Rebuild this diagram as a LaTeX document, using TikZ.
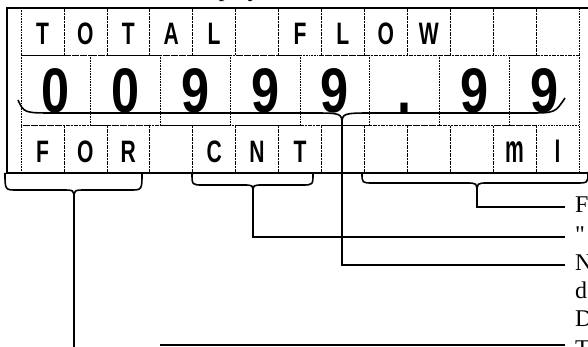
\documentclass[tikz,border=0pt]{standalone}
\usepackage{fontspec}
\setmainfont{Liberation Serif}
\setsansfont{Liberation Sans}
\usetikzlibrary{positioning,calc}
\newcommand{\narrow}[2][0.68]{\scalebox{#1}[1]{#2}}
\newcommand{\straightquote}{\XeTeXglyph\XeTeXcharglyph"22\relax}

\tikzset{
  cell/.style={draw, densely dotted, line width=0.6pt, inner sep=0pt},
  toprow/.style={minimum width=42.92pt, minimum height=47pt, text height=27pt, text depth=0pt,
    font=\sffamily\bfseries\fontsize{31}{31}\selectfont},
  midrow/.style={minimum width=69.75pt, minimum height=70pt, text height=46pt, text depth=0pt,
    font=\sffamily\bfseries\fontsize{63}{63}\selectfont},
  botrow/.style={minimum width=42.92pt, minimum height=48pt, text height=28pt, text depth=0pt,
    font=\sffamily\bfseries\fontsize{31}{31}\selectfont},
  frame/.style={line width=1.4pt},
  brace/.style={line width=1.6pt},
  lead/.style={line width=1.6pt},
  lbl/.style={anchor=west, inner sep=0pt, text height=10pt, text depth=0pt,
    font=\fontsize{24}{28}\selectfont},
  title/.style={anchor=base west, inner sep=0pt, font=\fontsize{24}{24}\selectfont}
}

\begin{document}
\begin{tikzpicture}[x=1pt,y=-1pt]
  \clip (0,0) rectangle (588,347);
  % Title, cut off at the top
  \node[title] (title) at (185,-3) {Display};
  % Top row: 13 character cells
  \foreach \ch [count=\i] in {T,O,T,A,L,{},F,L,O,W,{},{},{}}
    \node[cell,toprow] (top\i) at ({21+(\i-0.5)*42.92},31.5) {\narrow{\ch}};
  % Middle row: 8 large digit cells
  \foreach \ch [count=\i] in {0,0,9,9,9,.,9,9}
    \node[cell,midrow] (mid\i) at ({21+(\i-0.5)*69.75},90) {\narrow[0.8]{\ch}};
  % Bottom row: 13 character cells
  \foreach \ch [count=\i] in {F,O,R,{},C,N,T,{},{},{},{},{\scalebox{1}[1.25]{m}},l}
    \node[cell,botrow] (bot\i) at ({21+(\i-0.5)*42.92},149) {\narrow{\ch}};
  % Outer frame
  \draw[frame] (600,8) -- (7,8) -- (7,173) -- (600,173);
  % Brace under the digits
  \coordinate (midTip) at (342,125);
  \draw[brace] (18,100) .. controls (24,113) .. (55,113) -- (310,113)
    .. controls (342,113) .. (midTip) .. controls (342,113) .. (375,113)
    -- (528,113) .. controls (555,113) .. (565,98);
  % Brace under FOR
  \coordinate (forTip) at (74,199);
  \draw[brace] (5,173) .. controls (5,190) .. (17,190) -- (62,190)
    .. controls (74,190) .. (forTip) .. controls (74,190) .. (86,190)
    -- (130,190) .. controls (142,190) .. (142,173);
  % Brace under CNT
  \coordinate (cntTip) at (253,193);
  \draw[brace] (192,173) .. controls (192,185) .. (203,185) -- (243,185)
    .. controls (253,185) .. (cntTip) .. controls (253,185) .. (263,185)
    -- (302,185) .. controls (313,185) .. (313,173);
  % Brace under the unit cells
  \coordinate (unitTip) at (477,193);
  \draw[brace] (362,173) .. controls (362,183) .. (373,183) -- (466,183)
    .. controls (477,183) .. (unitTip) .. controls (477,183) .. (488,183)
    -- (576,183) .. controls (588,183) .. (588,172);
  % Labels, cut off at the right
  \node[lbl] (lblF) at (575,207) {F};
  \node[lbl] (lblQ) at (575,237) {\straightquote};
  \node[lbl] (lblN) at (575,265) {N};
  \node[lbl] (lblNd) at ([yshift=-28pt]lblN.west) {d};
  \node[lbl] (lblND) at ([yshift=-28pt]lblNd.west) {D};
  \node[lbl, anchor=base west] (lblT) at (575,356) {T};
  % Leaders
  \coordinate (tStart) at (160,345);
  \draw[lead] (unitTip) |- ([xshift=-10pt]lblF.west);
  \draw[lead] (cntTip) |- ([xshift=-10pt]lblQ.west);
  \draw[lead] (midTip) |- ([xshift=-10pt]lblN.west);
  \draw[lead] (forTip) -- (74,360);
  \draw[lead] (tStart) -- ([xshift=-10pt]lblT.west |- tStart);
\end{tikzpicture}
\end{document}
